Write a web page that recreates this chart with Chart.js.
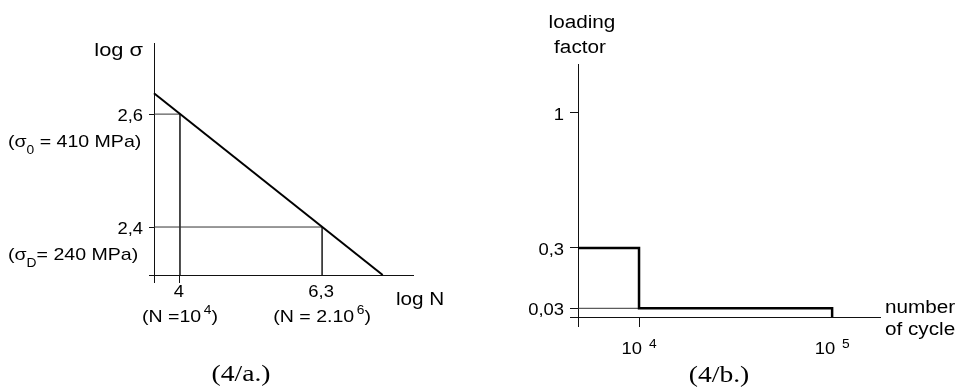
<!DOCTYPE html>
<html>
<head>
<meta charset="utf-8">
<script src="https://cdn.jsdelivr.net/npm/chart.js@4.4.1/dist/chart.umd.min.js"></script>
<style>
  html, body { margin: 0; padding: 0; background: #fff; }
  #wrap { position: relative; width: 957px; height: 392px; overflow: hidden; }
  canvas { position: absolute; top: 0; }
  #g-wohler { left: 0; }
  #g-load { left: 478px; }
</style>
</head>
<body>
<div id="wrap">
  <canvas id="g-wohler" width="478" height="392"></canvas>
  <canvas id="g-load" width="479" height="392"></canvas>
</div>
<script>
/* (4/a.) Wöhler line, log-log */
var snLogN       = [3.58, 7.28];
var snLogSigma   = [2.637, 2.315];
var refLogN      = [4, 6.3];
var refLogSigma  = [2.6, 2.4];
var logNRange    = [3.58, 7.77];
var logSigmaRange = [2.315, 2.726];
var sigmaTickLabels = ["2,6", "2,4"];
var sigmaNotes   = [["(σ", "0", " = 410 MPa)"], ["(σ", "D", "= 240 MPa)"]];
var logNTickLabels = ["4", "6,3"];
var logNNotes    = [["(N =10", "4", ")"], ["(N = 2.10", "6", ")"]];

/* (4/b.) loading factor vs number of cycle */
var cycles       = [4830, 1e4, 1e5];
var loadFactor   = [0.3, 0.03, 0];
var cycleRange   = [4830, 177000];
var factorRange  = [0, 1.27];
var factorTicks  = [1, 0.3, 0.03];
var factorTickLabels = ["1", "0,3", "0,03"];
var cycleTicks   = [1e4, 1e5];
var cycleTickExps = ["4", "5"];

var SANS = "'Liberation Sans', Arial, sans-serif";
var SERIF = "'Liberation Serif', 'Times New Roman', serif";
var SX = 1.15;   // the scan is a bit wider than tall
var INK = "#111";

// y axis that is neither linear nor log: v^e (schematic figure)
class PowerScale extends Chart.LinearScale {
  _f(v) { var e = this.options.exponent || 0.9; return Math.sign(v) * Math.pow(Math.abs(v), e); }
  getPixelForValue(value) {
    if (value === null || value === undefined) return NaN;
    var a = this._f(this.min), b = this._f(this.max);
    return this.getPixelForDecimal((this._f(value) - a) / (b - a));
  }
  getValueForPixel(pixel) {
    var e = this.options.exponent || 0.9;
    var a = this._f(this.min), b = this._f(this.max);
    var t = a + this.getDecimalForPixel(pixel) * (b - a);
    return Math.sign(t) * Math.pow(Math.abs(t), 1 / e);
  }
}
PowerScale.id = "power";
PowerScale.defaults = {};
Chart.register(PowerScale);

function parts(ctx, list, x, y, align) {
  // list: [text, size, dy]
  ctx.save();
  var widths = list.map(function (p) { ctx.font = p[1] + "px " + SANS; return ctx.measureText(p[0]).width * SX; });
  var total = widths.reduce(function (s, w) { return s + w; }, 0);
  var cx = align === "right" ? x - total : align === "center" ? x - total / 2 : x;
  ctx.fillStyle = "#000"; ctx.textBaseline = "alphabetic"; ctx.textAlign = "left";
  list.forEach(function (p, i) {
    ctx.save();
    ctx.translate(cx, y + (p[2] || 0)); ctx.scale(SX, 1);
    ctx.font = p[1] + "px " + SANS;
    ctx.fillText(p[0], 0, 0);
    ctx.restore();
    cx += widths[i];
  });
  ctx.restore();
}
function txt(ctx, s, x, y, size, align, fam) {
  ctx.save();
  ctx.translate(x, y); ctx.scale(SX, 1);
  ctx.font = size + "px " + (fam || SANS);
  ctx.fillStyle = "#000"; ctx.textAlign = align || "left"; ctx.textBaseline = "alphabetic";
  ctx.fillText(s, 0, 0);
  ctx.restore();
}

function axis(min, max, tickValues, tickLen, size) {
  return {
    min: min, max: max,
    afterBuildTicks: function (sc) { sc.ticks = tickValues.map(function (v) { return { value: v }; }); },
    afterFit: function (sc) { if (sc.isHorizontal()) sc.height = size; else sc.width = size; },
    ticks: { display: false },
    grid: { display: true, drawOnChartArea: false, drawTicks: true, tickLength: tickLen, color: INK, lineWidth: 1 },
    border: { display: true, color: INK, width: 1 }
  };
}

function seg(pts) { return pts.map(function (p) { return { x: p[0], y: p[1] }; }); }

/* ---------- (4/a.) ---------- */
var guidesA = refLogN.map(function (n, i) {
  return {
    data: seg([[logNRange[0], refLogSigma[i]], [n, refLogSigma[i]], [n, logSigmaRange[0]]]),
    borderColor: "#333", borderWidth: 1, pointRadius: 0, clip: false
  };
});

var labelsA = {
  id: "labelsA",
  afterDraw: function (chart) {
    var ctx = chart.ctx, a = chart.chartArea, xs = chart.scales.x, ys = chart.scales.y;
    txt(ctx, "log σ", a.left - 11, a.top + 13, 19, "right");
    refLogSigma.forEach(function (v, i) {
      var py = ys.getPixelForValue(v);
      txt(ctx, sigmaTickLabels[i], a.left - 11, py + 7, 16, "right");
      var n = sigmaNotes[i];
      parts(ctx, [[n[0], 17, 0], [n[1], 12, 7], [n[2], 17, 0]], 8, py + 33, "left");
    });
    refLogN.forEach(function (v, i) {
      var px = xs.getPixelForValue(v);
      txt(ctx, logNTickLabels[i], px - 1, a.bottom + 22, 16, "center");
      var n = logNNotes[i];
      parts(ctx, [[n[0], 17, 0], [" ", 8, 0], [n[1], 12, -8], [n[2], 17, 0]], px, a.bottom + 47, "center");
    });
    txt(ctx, "log N", a.right - 17, a.bottom + 30, 18, "left");
    txt(ctx, "(4/a.)", 241, 381, 24, "center", SERIF);
  }
};

new Chart(document.getElementById("g-wohler"), {
  type: "line",
  data: {
    datasets: [{
      data: snLogN.map(function (n, i) { return { x: n, y: snLogSigma[i] }; }),
      borderColor: "#000", borderWidth: 2, pointRadius: 0, clip: false
    }].concat(guidesA)
  },
  options: {
    responsive: false, animation: false, events: [],
    layout: { padding: { left: 149, top: 43, right: 65, bottom: 109 } },
    plugins: { legend: { display: false }, tooltip: { enabled: false } },
    scales: {
      x: Object.assign({ type: "linear" }, axis(logNRange[0], logNRange[1], [logNRange[0], refLogN[0]], 8, 8)),
      y: Object.assign({ type: "linear" }, axis(logSigmaRange[0], logSigmaRange[1], [logSigmaRange[0]].concat(refLogSigma), 5, 5))
    }
  },
  plugins: [labelsA]
});

/* ---------- (4/b.) ---------- */
var labelsB = {
  id: "labelsB",
  afterDraw: function (chart) {
    var ctx = chart.ctx, a = chart.chartArea, xs = chart.scales.x, ys = chart.scales.y;
    txt(ctx, "loading", a.left + 4, 28, 18, "center");
    txt(ctx, "factor", a.left + 2, 53, 18, "center");
    factorTicks.forEach(function (v, i) {
      txt(ctx, factorTickLabels[i], a.left - 14, ys.getPixelForValue(v) + 7, 16, "right");
    });
    cycleTicks.forEach(function (v, i) {
      var px = xs.getPixelForValue(v);
      txt(ctx, "10", px + 3, a.bottom + 37, 16, "right");
      txt(ctx, cycleTickExps[i], px + 10, a.bottom + 31, 12, "left");
    });
    txt(ctx, "number", a.right + 5, a.bottom - 4, 18, "left");
    txt(ctx, "of cycle", a.right + 5, a.bottom + 18, 18, "left");
    txt(ctx, "(4/b.)", 241, 382, 24, "center", SERIF);
  }
};

new Chart(document.getElementById("g-load"), {
  type: "line",
  data: {
    datasets: [{
      data: cycles.map(function (c, i) { return { x: c, y: loadFactor[i] }; }),
      stepped: "before",
      borderColor: "#000", borderWidth: 2.5, pointRadius: 0, clip: false
    }, {
      data: seg([[cycleRange[0], loadFactor[1]], [cycles[1], loadFactor[1]]]),
      borderColor: "#333", borderWidth: 1, pointRadius: 0, clip: false
    }]
  },
  options: {
    responsive: false, animation: false, events: [],
    layout: { padding: { left: 92, top: 64, right: 77, bottom: 65 } },
    plugins: { legend: { display: false }, tooltip: { enabled: false } },
    scales: {
      x: Object.assign({ type: "logarithmic" }, axis(cycleRange[0], cycleRange[1], [cycleRange[0], cycleTicks[0]], 10, 10)),
      y: Object.assign({ type: "power", exponent: 0.9 }, axis(factorRange[0], factorRange[1], [0].concat(loadFactor.slice(1, 2), factorTicks.slice(0, 2)), 8, 8))
    }
  },
  plugins: [labelsB]
});
</script>
</body>
</html>
